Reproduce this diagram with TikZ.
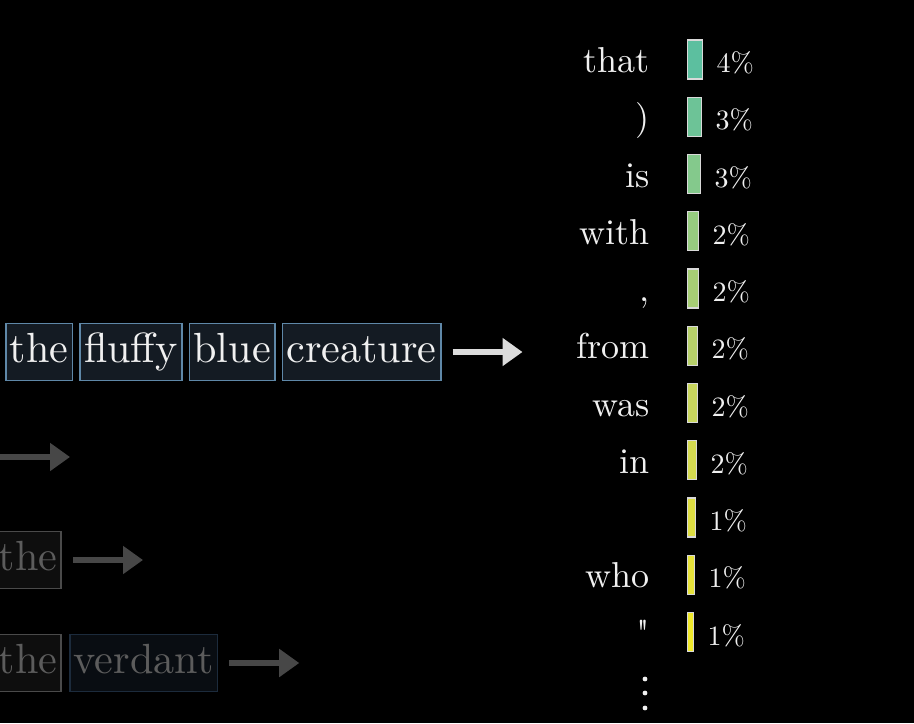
\documentclass[tikz,border=0pt]{standalone}
\usepackage{fontspec}
\setmainfont{lmroman10-regular.otf}
\usetikzlibrary{arrows.meta,positioning}
\definecolor{tokfill}{HTML}{141B23}
\definecolor{tokedge}{HTML}{5F88A8}
\definecolor{fadefill}{HTML}{0E0E0E}
\definecolor{fadeedge}{HTML}{4A4A4A}
\definecolor{fadetext}{HTML}{5C5C5C}
\definecolor{dimfill}{HTML}{090D12}
\definecolor{dimedge}{HTML}{1C2B3C}
\definecolor{arrowlight}{HTML}{DCDCDC}
\definecolor{arrowdark}{HTML}{474747}

\begin{document}
\begin{tikzpicture}[x=0.5pt, y=-0.5pt, >={Triangle[length=10pt,width=13.5pt]},
  every node/.style={text=white!94!black},
  tok/.style={draw=tokedge, fill=tokfill, line width=0.8pt, font=\fontsize{21.1}{24}\selectfont,
    text height=15pt, text depth=4.5pt, inner xsep=2pt, inner ysep=4.5pt},
  fadetok/.style={tok, draw=fadeedge, fill=fadefill, text=fadetext},
  dimtok/.style={tok, draw=dimedge, fill=dimfill, text=fadetext},
  flow/.style={->, line width=3pt, draw=arrowlight, fill=arrowlight, shorten <=5.5pt},
  fadeflow/.style={flow, draw=arrowdark, fill=arrowdark},
  word/.style={font=\fontsize{18}{20}\selectfont, inner sep=0pt},
  pct/.style={font=\fontsize{14}{16}\selectfont, inner sep=0pt},
  bar/.style={draw=white!85!black, line width=0.6pt, minimum height=19.5pt, inner sep=0pt}]
\fill[black] (0,0) rectangle (914,723);
\clip (0,0) rectangle (914,723);

% the current context
\node[tok, anchor=west] (the) at (5,352) {the};
\node[tok, right=3pt of the] (fluffy) {fluffy};
\node[tok, right=3pt of fluffy] (blue) {blue};
\node[tok, right=3pt of blue] (creature) {creature};
\coordinate[right=40.5pt of creature] (next1);
\draw[flow] (creature) -- (next1);

% earlier, faded steps
\coordinate (start2) at (-10,457);
\coordinate (next2) at (70,457);
\draw[fadeflow, shorten <=0pt] (start2) -- (next2);

\node[fadetok, anchor=east] (theb) at (62,560) {the};
\coordinate[right=40.5pt of theb] (next3);
\draw[fadeflow] (theb) -- (next3);

\node[fadetok, anchor=east] (thec) at (62,663) {the};
\node[dimtok, right=3.5pt of thec] (verdant) {verdant};
\coordinate[right=40.5pt of verdant] (next4);
\draw[fadeflow] (verdant) -- (next4);

% next token distribution
\foreach \w/\p/\len/\c [count=\i] in {that/4/15/5CBF9F, )/3/14/6DC397, is/3/13/84C98C,
    with/2/11/97CC80, {,}/2/11/A7CE75, from/2/10/B7D06A, was/2/10/C9D65E,
    in/2/9/D4DA50, {}/1/8/DDDD42, who/1/7/E6E23A, \textquotedbl/1/6/EFE82A} {
  \definecolor{barc}{HTML}{\c}
  \node[bar, fill=barc, minimum width=\len*0.5pt, anchor=west] (b\i) at (687,{59.5+57.25*(\i-1)}) {};
  \node[word, anchor=base east] (w\i) at ([xshift=-18.5pt, yshift=-6.5pt]b\i.west) {\w};
  \node[pct, anchor=base west] (p\i) at ([xshift=6.5pt, yshift=-6.5pt]b\i.east) {\p\%};
}
\foreach \y in {679,693,708}
  \fill[white!94!black] (645,\y) circle (1.2pt);
\end{tikzpicture}
\end{document}
